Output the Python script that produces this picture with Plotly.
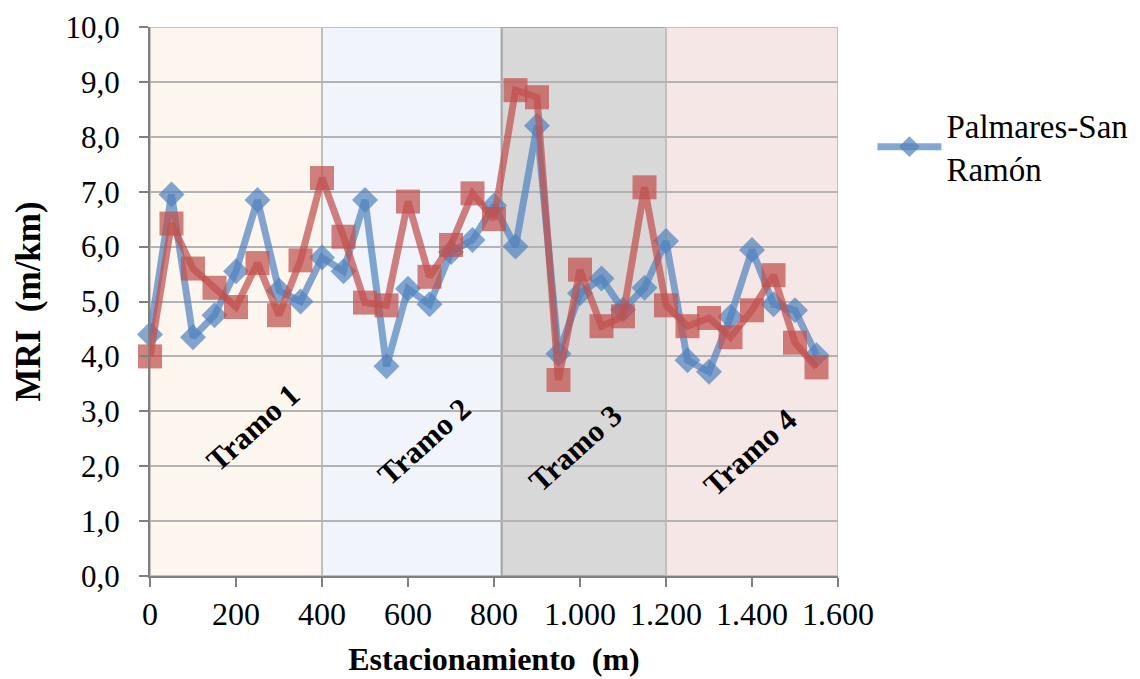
import plotly.graph_objects as go

estacion = [0, 50, 100, 150, 200, 250, 300, 350, 400, 450, 500, 550, 600, 650, 700, 750,
            800, 850, 900, 950, 1000, 1050, 1100, 1150, 1200, 1250, 1300, 1350, 1400, 1450, 1500, 1550]
mri_azul = [4.4, 6.95, 4.35, 4.75, 5.55, 6.85, 5.2, 5.0, 5.8, 5.55, 6.85, 3.82, 5.23, 4.95, 5.9, 6.12,
            6.75, 6.0, 8.2, 4.05, 5.15, 5.42, 4.85, 5.25, 6.1, 3.93, 3.72, 4.72, 5.94, 4.95, 4.84, 4.02]
mri_rojo = [4.0, 6.42, 5.6, 5.25, 4.9, 5.7, 4.75, 5.75, 7.25, 6.18, 4.98, 4.93, 6.82, 5.45, 6.03, 6.97,
            6.5, 8.85, 8.72, 3.57, 5.58, 4.55, 4.73, 7.08, 4.93, 4.55, 4.7, 4.35, 4.84, 5.48, 4.25, 3.8]

tramos = ["Tramo 1", "Tramo 2", "Tramo 3", "Tramo 4"]
tramo_ini = [0, 400, 818, 1200]
tramo_fin = [400, 818, 1200, 1600]
tramo_color = ["#FCF6EF", "#F1F5FB", "#D8D8D8", "#F6E7E7"]
tramo_borde = ["#BFBFBF", "#BFBFBF", "#A6A6A6", "#BFBFBF"]
etiqueta_x = [240, 638, 988, 1395]
etiqueta_y = [2.7, 2.45, 2.33, 2.25]

serif = "Liberation Serif"

fig = go.Figure()

for i in range(4):
    fig.add_shape(type="rect", xref="x", yref="y",
                  x0=tramo_ini[i], x1=tramo_fin[i], y0=0, y1=10,
                  fillcolor=tramo_color[i], line=dict(color=tramo_borde[i], width=2),
                  layer="below")
    fig.add_annotation(x=etiqueta_x[i], y=etiqueta_y[i], text="<b>" + tramos[i] + "</b>",
                       showarrow=False, textangle=-42,
                       font=dict(family=serif, size=31, color="black"))

fig.add_trace(go.Scatter(
    x=estacion, y=mri_azul, mode="lines+markers", name="Palmares-San<br>Ramón",
    line=dict(color="rgba(79,129,189,0.7)", width=7),
    marker=dict(symbol="diamond", size=20, color="rgba(79,129,189,0.7)"),
    cliponaxis=False))

fig.add_trace(go.Scatter(
    x=estacion, y=mri_rojo, mode="lines+markers", name="Serie 2", showlegend=False,
    line=dict(color="rgba(192,80,77,0.72)", width=7),
    marker=dict(symbol="square", size=24, color="rgba(192,80,77,0.72)"),
    cliponaxis=False))

fig.update_layout(
    width=1140, height=679,
    margin=dict(l=142, r=310, t=19, b=111, autoexpand=False),
    paper_bgcolor="white", plot_bgcolor="white",
    separators=",.",
    showlegend=True,
    legend=dict(x=1.050, y=0.872, xanchor="left", yanchor="top", itemwidth=64,
                font=dict(family=serif, size=33, color="black"),
                bgcolor="rgba(0,0,0,0)"),
    xaxis=dict(range=[0, 1600], tickvals=list(range(0, 1601, 200)), tickformat=",d",
               automargin=False,
               showgrid=False, zeroline=False, showline=True, linecolor="#808080", linewidth=2,
               ticks="outside", ticklen=9, tickcolor="#808080", tickwidth=2,
               tickfont=dict(family=serif, size=32, color="black"),
               title=dict(text="<b>Estacionamiento  (m)</b>", standoff=16,
                          font=dict(family=serif, size=32, color="black"))),
    yaxis=dict(range=[0, 10], tickvals=list(range(0, 11)), tickformat=".1f",
               automargin=False,
               showgrid=True, gridcolor="#B3B3B3", gridwidth=2, zeroline=False,
               showline=True, linecolor="#808080", linewidth=2,
               ticks="outside", ticklen=9, tickcolor="#808080", tickwidth=2,
               ticklabelstandoff=13,
               tickfont=dict(family=serif, size=31, color="black"),
               title=dict(text="<b>MRI  (m/km)</b>", standoff=14,
                          font=dict(family=serif, size=35, color="black"))),
)

fig.write_html("out.html")
